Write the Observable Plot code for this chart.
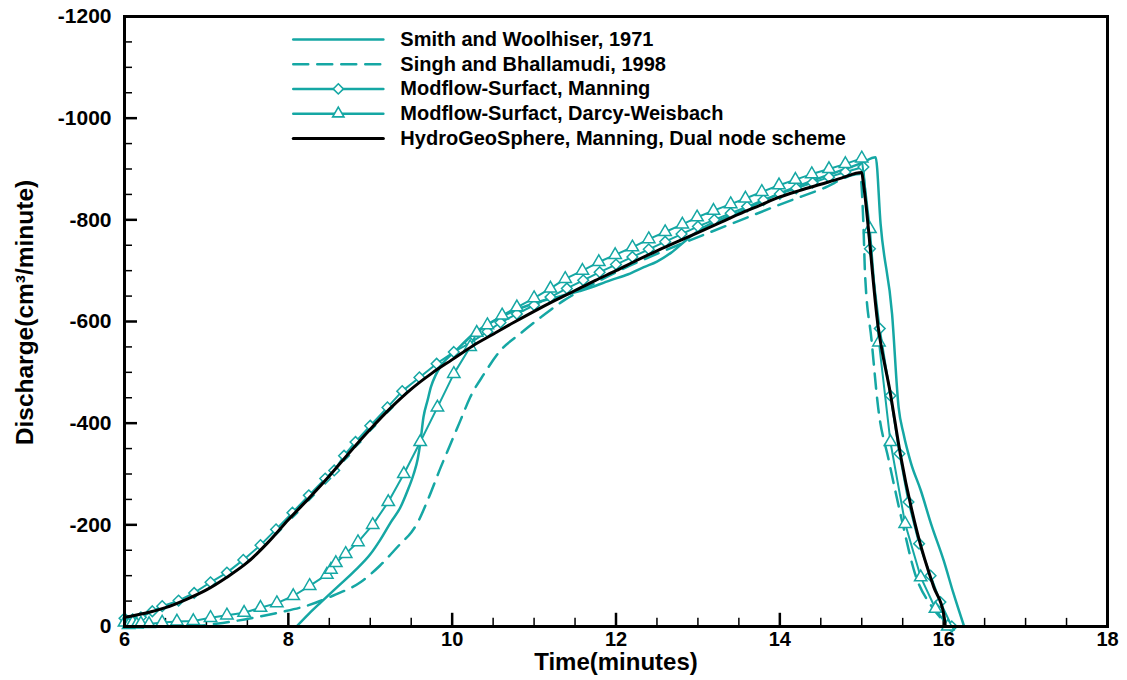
<!DOCTYPE html>
<html><head><meta charset="utf-8">
<script src="https://cdn.jsdelivr.net/npm/d3@7"></script>
<script src="https://cdn.jsdelivr.net/npm/@observablehq/plot@0.6"></script>
<style>body{margin:0;background:#fff} svg{display:block}</style>
</head><body><div id="chart"></div>
<script>
// ---- data ----
const xTickValues = [6, 8, 10, 12, 14, 16, 18];
const yTickValues = [0, -200, -400, -600, -800, -1000, -1200];
const seriesNames = [
  "Smith and Woolhiser, 1971",
  "Singh and Bhallamudi, 1998",
  "Modflow-Surfact, Manning",
  "Modflow-Surfact, Darcy-Weisbach",
  "HydroGeoSphere, Manning, Dual node scheme"
];
const smithTime = [8.1,8.25,8.4,8.6,8.8,9.0,9.12,9.25,9.37,9.45,9.53,9.58,9.61,9.65,9.7,9.74,9.8,9.86,10.06,10.26,10.47,10.7,11.0,11.32,11.6,11.93,12.15,12.34,12.5,12.67,12.87,13.0,13.5,14.0,14.5,15.0,15.17,15.23,15.37,15.45,15.51,15.6,15.72,15.85,16.0,16.12,16.25];
const smithQ = [0,-25,-48,-78,-108,-142,-170,-205,-235,-265,-300,-330,-360,-412,-445,-471,-495,-512,-545,-576,-598,-617,-636,-650,-662,-681,-693,-707,-718,-735,-762,-778,-815,-852,-883,-912,-923,-792,-615,-431,-379,-322,-268,-200,-130,-65,0];
const singhTime = [6.8,7.0,7.2,7.6,7.9,8.23,8.55,8.88,9.12,9.37,9.5,9.57,9.7,9.86,9.98,10.1,10.22,10.39,10.59,10.83,11.08,11.36,11.7,12.0,12.5,13.0,13.5,14.0,14.5,14.98,15.02,15.04,15.12,15.2,15.33,15.49,15.65,15.86,16.0,16.05];
const singhQ = [0,-3,-7,-18,-28,-41,-61,-87,-120,-163,-185,-202,-248,-313,-359,-405,-451,-497,-543,-576,-608,-641,-672,-697,-733,-766,-798,-830,-860,-890,-792,-694,-563,-431,-327,-209,-104,-38,-10,0];
const manningTime = [6.0,6.05,6.1,6.15,6.2,6.34,6.46,6.66,6.85,7.05,7.25,7.45,7.66,7.85,8.05,8.25,8.45,8.56,8.68,8.82,9.0,9.21,9.39,9.6,9.81,10.02,10.22,10.43,10.59,10.79,11.0,11.2,11.4,11.6,11.8,12.0,12.2,12.4,12.6,12.8,13.0,13.2,13.4,13.6,13.8,14.0,14.2,14.4,14.6,14.8,15.02,15.1,15.22,15.35,15.46,15.57,15.7,15.84,15.96,16.1];
const manningQ = [-16,-10,-14,-12,-18,-30,-40,-51,-66,-87,-106,-131,-160,-191,-224,-258,-291,-307,-336,-363,-395,-431,-463,-490,-517,-540,-558,-580,-598,-615,-632,-648,-665,-681,-697,-712,-727,-742,-757,-772,-787,-800,-813,-826,-839,-851,-862,-873,-884,-894,-904,-743,-586,-454,-340,-245,-163,-100,-48,0];
const darcyTime = [6.0,6.05,6.1,6.15,6.2,6.3,6.46,6.64,6.84,7.05,7.25,7.46,7.66,7.86,8.06,8.26,8.47,8.52,8.58,8.7,8.85,9.03,9.22,9.41,9.61,9.82,10.02,10.22,10.3,10.43,10.61,10.79,11.0,11.2,11.38,11.59,11.79,11.99,12.2,12.4,12.6,12.81,12.99,13.19,13.4,13.58,13.78,13.99,14.19,14.39,14.6,14.8,15.0,15.1,15.21,15.35,15.53,15.72,15.9,16.05];
const darcyQ = [-8,-3,-8,-4,-6,-5,-8,-10,-11,-17,-22,-27,-37,-46,-60,-80,-102,-112,-125,-143,-166,-200,-245,-300,-363,-431,-497,-550,-578,-593,-612,-628,-646,-665,-684,-700,-717,-731,-746,-762,-776,-791,-805,-818,-831,-842,-855,-868,-879,-890,-900,-910,-921,-782,-559,-363,-202,-97,-35,0];
const hgsTime = [6.0,6.25,6.5,6.75,7.0,7.25,7.5,7.75,8.0,8.25,8.5,8.75,9.0,9.25,9.5,9.75,10.0,10.25,10.5,10.75,11.0,11.25,11.5,11.75,12.0,12.25,12.5,12.75,13.0,13.25,13.5,13.75,14.0,14.25,14.5,14.75,15.0,15.02,15.2,15.35,15.47,15.68,15.88,16.0,16.02];
const hgsQ = [-18,-26,-37,-53,-72,-97,-126,-165,-210,-252,-296,-343,-388,-430,-467,-498,-525,-552,-575,-598,-620,-641,-661,-681,-700,-720,-739,-757,-775,-793,-811,-828,-845,-858,-870,-882,-893,-872,-590,-458,-340,-183,-77,-25,0];

// ---- helpers ----
const zip = (t, q) => t.map((d, i) => ({t: d, q: q[i]}));
const smith = zip(smithTime, smithQ);
const singh = zip(singhTime, singhQ);
const manning = zip(manningTime, manningQ);
const darcy = zip(darcyTime, darcyQ);
const hgs = zip(hgsTime, hgsQ);

const teal = "#15a7a4";
const xMinor = d3.range(6.5, 18, 0.5).filter(v => v % 2 !== 0);
const yMinor = d3.range(-50, -1200, -50).filter(v => v % 200 !== 0);

// legend geometry (in data units of the chart's scales)
const legX0 = 8.06, legX1 = 9.16, legXm = 8.61, legTop = -1155, legStep = 48.7;
const legRows = seriesNames.map((name, i) => ({name, y: legTop + i * legStep}));
const legStyles = [
  {stroke: teal, dash: null, sym: null, r: 0},
  {stroke: teal, dash: "15,9", sym: null, r: 0},
  {stroke: teal, dash: null, sym: "diamond2", r: 4.6},
  {stroke: teal, dash: null, sym: "triangle", r: 4.2},
  {stroke: "black", dash: null, sym: null, r: 0}
];
const legendMarks = legRows.flatMap((r, i) => {
  const s = legStyles[i];
  const m = [Plot.line([{t: legX0, q: r.y}, {t: legX1, q: r.y}], {x: "t", y: "q", stroke: s.stroke, strokeWidth: i === 4 ? 3 : 2.5, strokeDasharray: s.dash})];
  if (s.sym) m.push(Plot.dot([{t: legXm, q: r.y}], {x: "t", y: "q", symbol: s.sym, r: s.r, fill: "white", stroke: teal, strokeWidth: 1.6}));
  m.push(Plot.text([r], {x: () => legX1, y: "y", text: "name", dx: 17, textAnchor: "start", fontSize: 20, fontWeight: "bold", fill: "black"}));
  return m;
});

const chart = Plot.plot({
  width: 1127,
  height: 680,
  marginLeft: 124,
  marginRight: 20,
  marginTop: 16,
  marginBottom: 54,
  style: {fontFamily: "'Liberation Sans', Arial, sans-serif", fontWeight: "bold", background: "white", overflow: "visible"},
  x: {domain: [6, 18]},
  y: {domain: [0, -1200]},
  marks: [
    // inward ticks
    Plot.ruleX(xTickValues, {x: d => d, y1: 0, y2: -26, stroke: "black", strokeWidth: 2.5}),
    Plot.ruleX(xMinor, {x: d => d, y1: 0, y2: -16, stroke: "black", strokeWidth: 1.5}),
    Plot.ruleY(yTickValues, {y: d => d, x1: 6, x2: 6 + 13 / 81.92, stroke: "black", strokeWidth: 2.5}),
    Plot.ruleY(yMinor, {y: d => d, x1: 6, x2: 6 + 8 / 81.92, stroke: "black", strokeWidth: 1.5}),
    Plot.axisX({ticks: xTickValues, tickSize: 0, tickPadding: 5, fontSize: 20, fontWeight: "bold", label: null, tickFormat: d => String(d)}),
    Plot.axisY({ticks: yTickValues, tickSize: 0, tickPadding: 13, fontSize: 21, fontWeight: "bold", label: null, tickFormat: d => String(d)}),
    Plot.text(["Time(minutes)"], {frameAnchor: "bottom", dy: 43, fontSize: 24, fontWeight: "bold", fill: "black"}),
    Plot.text(["Discharge(cm³/minute)"], {frameAnchor: "left", textAnchor: "middle", dx: -99, dy: -9, rotate: -90, fontSize: 24.5, fontWeight: "bold", fill: "black"}),
    // series
    Plot.line(smith, {x: "t", y: "q", stroke: teal, strokeWidth: 2.5, curve: "monotone-x"}),
    Plot.line(singh, {x: "t", y: "q", stroke: teal, strokeWidth: 2.5, strokeDasharray: "15,9", curve: "monotone-x"}),
    Plot.line(manning, {x: "t", y: "q", stroke: teal, strokeWidth: 2}),
    Plot.dot(manning, {x: "t", y: "q", symbol: "diamond2", r: 4.8, fill: "white", stroke: teal, strokeWidth: 1.5}),
    Plot.line(darcy, {x: "t", y: "q", stroke: teal, strokeWidth: 2}),
    Plot.dot(darcy, {x: "t", y: "q", symbol: "triangle", r: 4.6, fill: "white", stroke: teal, strokeWidth: 1.5}),
    Plot.line(hgs, {x: "t", y: "q", stroke: "black", strokeWidth: 3, curve: "monotone-x"}),
    ...legendMarks,
    Plot.frame({stroke: "black", strokeWidth: 3})
  ]
});
document.getElementById("chart").appendChild(chart);
</script>
</body></html>
